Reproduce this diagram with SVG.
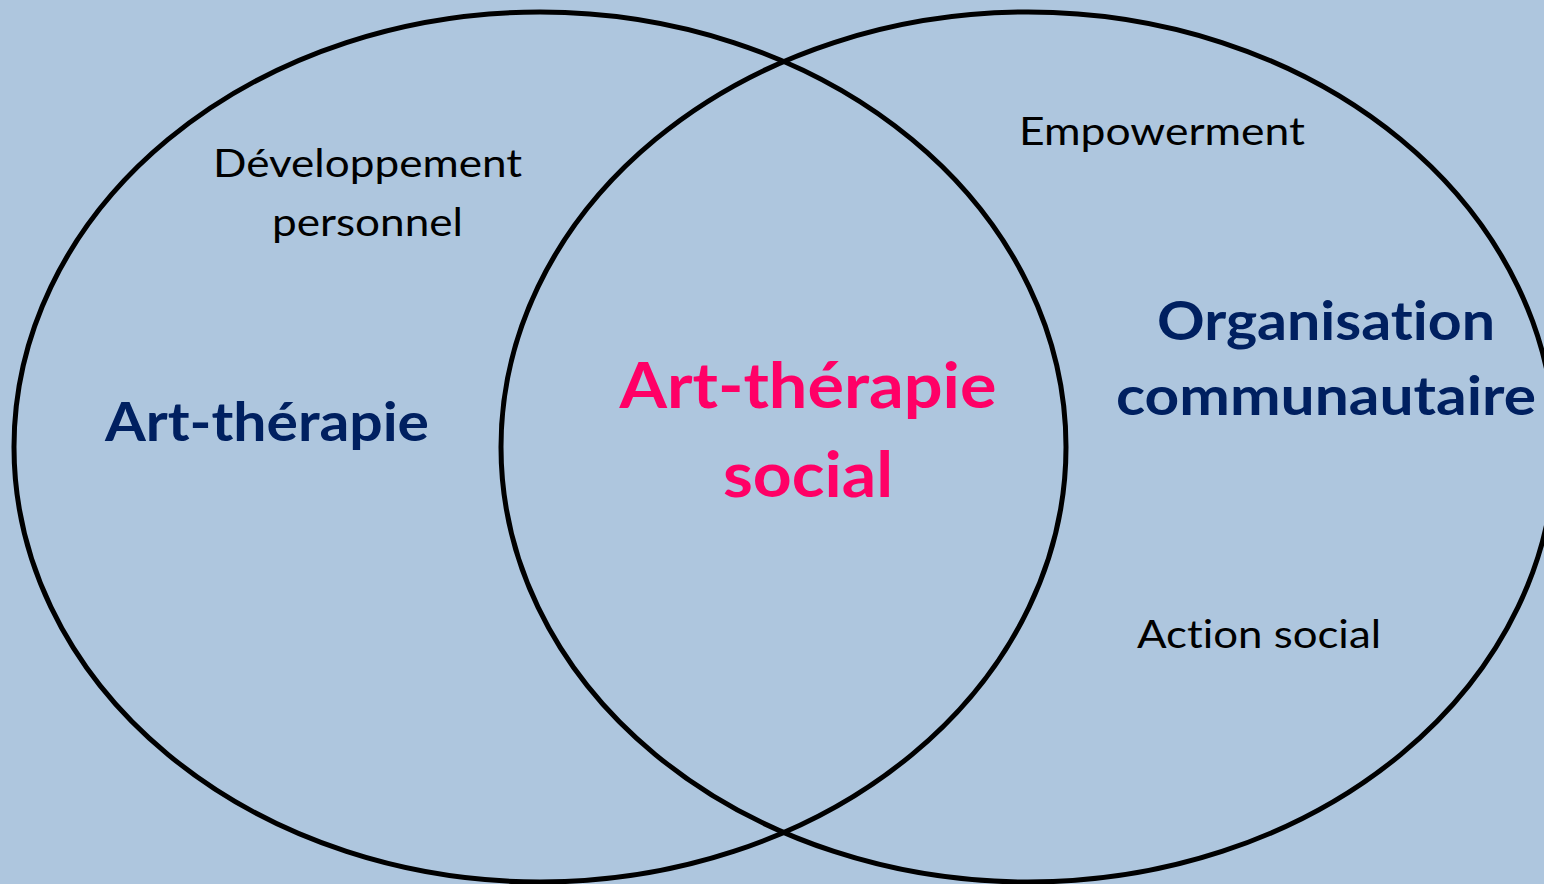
<svg xmlns="http://www.w3.org/2000/svg" width="1544" height="884" viewBox="0 0 1544 884">
<style>
.ring{fill:none;stroke:#000;stroke-width:5}
.t{font-family:Lato,"Open Sans","Liberation Sans",sans-serif;text-anchor:middle;font-variant-ligatures:none;font-feature-settings:"liga" 0,"clig" 0,"calt" 0,"dlig" 0}
.small{font-size:39px;fill:#000}
.navy{font-size:54px;font-weight:bold;fill:#002060}
.pink{font-size:63px;font-weight:bold;fill:#ff0066}
</style>
<rect width="1544" height="884" fill="#aec6de"/>
<g id="left-circle">
<ellipse class="ring" cx="540" cy="447" rx="526" ry="435"/>
<text class="t navy" x="267" y="441" textLength="324" lengthAdjust="spacingAndGlyphs">Art-thérapie</text>
<text class="t small" x="367.5" y="177" textLength="309" lengthAdjust="spacingAndGlyphs">Développement</text>
<text class="t small" x="367.5" y="236" textLength="191" lengthAdjust="spacingAndGlyphs">personnel</text>
</g>
<g id="right-circle">
<ellipse class="ring" cx="1028" cy="447" rx="527" ry="435"/>
<text class="t navy" x="1326" y="340" textLength="338" lengthAdjust="spacingAndGlyphs">Organisation</text>
<text class="t navy" x="1326" y="415" textLength="420" lengthAdjust="spacingAndGlyphs">communautaire</text>
<text class="t small" x="1162" y="145" textLength="286" lengthAdjust="spacingAndGlyphs">Empowerment</text>
<text class="t small" x="1259" y="648" textLength="244" lengthAdjust="spacingAndGlyphs">Action social</text>
</g>
<g id="intersection">
<text class="t pink" x="808" y="408" textLength="377" lengthAdjust="spacingAndGlyphs">Art-thérapie</text>
<text class="t pink" x="808" y="497" textLength="170" lengthAdjust="spacingAndGlyphs">social</text>
</g>
<g id="connectors"></g>
</svg>
